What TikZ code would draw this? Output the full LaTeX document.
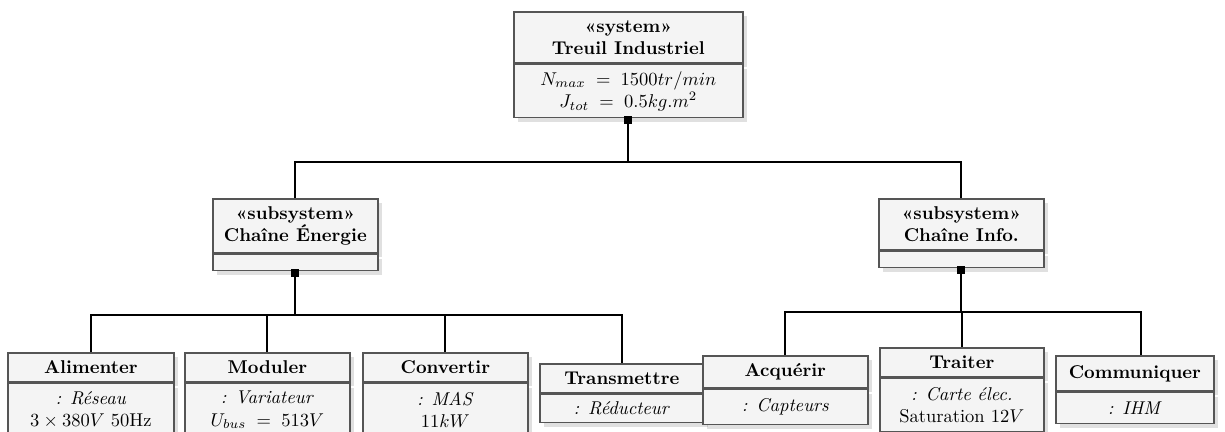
\documentclass[tikz,border=0pt]{standalone}
\usepackage{fontspec}
\usetikzlibrary{shadows,calc}
\definecolor{boxfill}{HTML}{F4F4F4}
\definecolor{boxline}{HTML}{555555}
\begin{document}
\begin{tikzpicture}[x=0.54pt,y=-0.54pt,
  part/.style 2 args={draw=boxline, fill=boxfill, line width=0.9pt, inner sep=0pt,
    align=center, anchor=north west, minimum width=#1*0.54pt, minimum height=#2*0.54pt,
    font=\fontsize{10}{12}\selectfont,
    drop shadow={shadow xshift=2.2pt, shadow yshift=-2.2pt, fill=black, opacity=0.12}},
  ttl/.style 2 args={part={#1}{#2}, font=\fontsize{10}{12}\selectfont\bfseries},
  bdy/.style 2 args={part={#1}{#2}},
  sq/.style={fill=black, inner sep=0pt, minimum size=8*0.54pt},
  conn/.style={line width=1.1pt, black}]
\useasboundingbox (0,0) rectangle (1225,431);

% system
\node[ttl={229}{51}] (sysT) at (513,11) {«system»\\Treuil Industriel};
\node[bdy={229}{53}] (sysB) at (sysT.south west) {$N_{max}\;=\;1500tr/min$\\$J_{tot}\;=\;0.5kg.m^2$};

% subsystems
\node[ttl={165}{54}] (enT) at (212,198) {«subsystem»\\Chaîne Énergie};
\node[bdy={165}{16}] (enB) at (enT.south west) {};
\node[ttl={165}{51}] (inT) at (878,198) {«subsystem»\\Chaîne Info.};
\node[bdy={165}{16}] (inB) at (inT.south west) {};

% energy children
\node[ttl={166}{29}] (alT) at (7,352) {Alimenter};
\node[bdy={166}{53}] (alB) at (alT.south west) {\textit{: Réseau}\\$3\times380V$ 50Hz};
\node[ttl={165}{29}] (moT) at (184,352) {Moduler};
\node[bdy={165}{53}] (moB) at (moT.south west) {\textit{: Variateur}\\$U_{bus}\;=\;513V$};
\node[ttl={165}{29}] (coT) at (362,352) {Convertir};
\node[bdy={165}{53}] (coB) at (coT.south west) {\textit{: MAS}\\$11kW$};
\node[ttl={164}{29}] (trT) at (539,363) {Transmettre};
\node[bdy={164}{28}] (trB) at (trT.south west) {\textit{: Réducteur}};

% info children
\node[ttl={165}{32}] (acT) at (702,355) {Acquérir};
\node[bdy={165}{35}] (acB) at (acT.south west) {\textit{: Capteurs}};
\node[ttl={164}{29}] (taT) at (879,347) {Traiter};
\node[bdy={164}{53}] (taB) at (taT.south west) {\textit{: Carte élec.}\\Saturation $12V$};
\node[ttl={158}{35}] (cmT) at (1055,355) {Communiquer};
\node[bdy={158}{31}] (cmB) at (cmT.south west) {\textit{: IHM}};

% squares
\node[sq] (sq1) at ($(sysB.south)+(0,1.5)$) {};
\node[sq] (sq2) at ($(enB.south)+(0,1.5)$) {};
\node[sq] (sq3) at ($(inB.south)+(0,1.5)$) {};
\coordinate (cmtop) at ($(cmT.north)+(6,0)$);

% connectors
\draw[conn] (sq1.center) -- ++(0,42.5) -| (enT.north);
\draw[conn] (sq1.center) -- ++(0,42.5) -| (inT.north);
\foreach \c in {alT,moT,coT,trT}
  \draw[conn] (sq2.center) -- ++(0,42.5) -| (\c.north);
\foreach \c in {acT,taT}
  \draw[conn] (sq3.center) -- ++(0,42.5) -| (\c.north);
\draw[conn] (sq3.center) -- ++(0,42.5) -| (cmtop);
\end{tikzpicture}
\end{document}
